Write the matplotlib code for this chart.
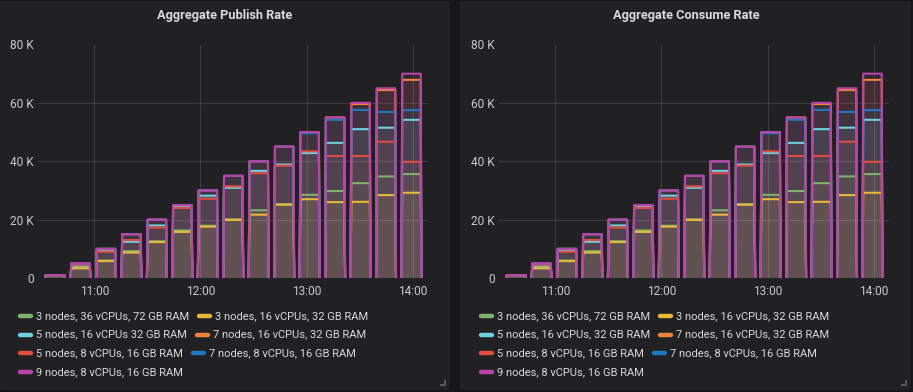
import numpy as np
import matplotlib
matplotlib.use("Agg")
import matplotlib.pyplot as plt
import matplotlib.dates as mdates
from matplotlib.patches import FancyBboxPatch, Polygon
from matplotlib.lines import Line2D

plt.rcParams['font.family'] = ['Roboto', 'DejaVu Sans']

# Test steps (start of each load step) and target rates
day = '2020-01-01T'
step_start = ['10:32:06', '10:46:30', '11:00:54', '11:15:18', '11:29:42',
              '11:44:06', '11:58:30', '12:12:54', '12:27:18', '12:41:42',
              '12:56:06', '13:10:30', '13:24:54', '13:39:18', '13:53:42']
step_minutes = 11.3

# Achieved rates (msg/s) per cluster, one value per step, in thousands
green = [1, 3.6, 6.0, 9.2, 12.6, 16.3, 17.9, 20.1, 23.2, 25.3, 28.5, 29.8, 32.5, 34.8, 35.6]
yellow = [1, 3.3, 5.8, 8.7, 12.3, 15.8, 17.6, 19.9, 21.7, 25.1, 27.0, 26.0, 26.1, 28.4, 29.2]
cyan = [1, 4.2, 9.4, 12.4, 18.0, 24.3, 28.2, 30.9, 36.7, 38.9, 42.8, 46.3, 51.0, 51.5, 54.2]
orange = [1, 5, 10, 15, 20, 25, 30, 35, 40, 45, 50, 55, 59.6, 64.4, 67.9]
red = [1, 4.5, 9.0, 13.0, 17.3, 24.0, 27.2, 31.4, 35.9, 38.5, 43.4, 41.8, 41.8, 46.7, 39.8]
blue = [1, 5, 10, 15, 20, 25, 30, 35, 40, 45, 49.6, 54.2, 57.6, 56.9, 57.5]
purple = [1, 5, 10, 15, 20, 25, 30, 35, 40, 45, 50, 55, 60, 65, 70]

pub_series = [green, yellow, cyan, orange, red, blue, purple]
con_series = [green, yellow, cyan, orange, red, blue, purple]

colors = ['#7EB26D', '#EAB839', '#6ED0E0', '#EF843C', '#E24D42', '#1F78C1', '#BA43A9']

pub_labels = ['3 nodes, 36 vCPUs, 72 GB RAM', '3 nodes, 16 vCPUs, 32 GB RAM',
              '5 nodes, 16 vCPUs 32 GB RAM', '7 nodes, 16 vCPUs, 32 GB RAM',
              '5 nodes, 8 vCPUs, 16 GB RAM', '7 nodes, 8 vCPUs, 16 GB RAM',
              '9 nodes, 8 vCPUs, 16 GB RAM']
con_labels = ['3 nodes, 36 vCPUs, 72 GB RAM', '3 nodes, 16 vCPUs, 32 GB RAM',
              '5 nodes, 16 vCPUs, 32 GB RAM', '7 nodes, 16 vCPUs, 32 GB RAM',
              '5 nodes, 8 vCPUs, 16 GB RAM', '7 nodes, 8 vCPUs, 16 GB RAM',
              '9 nodes, 8 vCPUs, 16 GB RAM']

BG = '#161719'
PANEL = '#212124'
TEXT = '#d8d9da'

W, H = 913, 392
fig = plt.figure(figsize=(W / 100, H / 100), dpi=100, facecolor=BG)


def fx(x):
    return x / W


def fy(y):
    return 1 - y / H


starts = np.array([np.datetime64(day + s) for s in step_start])
ramp = np.timedelta64(25, 's')
dur = np.timedelta64(int(step_minutes * 60), 's')


def build(levels):
    t, v = [], []
    for s, lv in zip(starts, levels):
        t += [s, s + ramp, s + dur - ramp, s + dur, s + dur + ramp]
        v += [0, lv * 1000, lv * 1000, 0, np.nan]
    return np.array(t), np.array(v, dtype=float)


def panel(x0, title, series, labels):
    # panel background
    fig.patches.append(FancyBboxPatch((fx(x0), fy(389)), fx(449), 387 / H,
                                      boxstyle='round,pad=0,rounding_size=0.003',
                                      transform=fig.transFigure, facecolor=PANEL,
                                      edgecolor='#262628', lw=0.8, zorder=-5))
    # resize corner
    cx, cy = x0 + 446, 386
    fig.patches.append(Polygon([(fx(cx), fy(cy)), (fx(cx - 6), fy(cy)), (fx(cx - 6), fy(cy - 2)),
                                (fx(cx - 2), fy(cy - 2)), (fx(cx - 2), fy(cy - 6)), (fx(cx), fy(cy - 6))],
                               closed=True, transform=fig.transFigure, facecolor='#5a5a5e',
                               edgecolor='none', zorder=-4))
    fig.text(fx(x0 + 225), fy(16), title, color=TEXT, fontsize=9.2, fontweight='bold',
             ha='center', va='center')

    ax = fig.add_axes([fx(x0 + 38), fy(278), 390 / W, 233.5 / H])
    ax.set_facecolor('none')
    for s, c in zip(series, colors):
        t, v = build(s)
        ax.fill_between(t, 0, v, color=c, alpha=0.1, lw=0, zorder=1)
    for s, c in zip(series, colors):
        t, v = build(s)
        ax.plot(t, v, color=c, lw=1.5, solid_joinstyle='round', zorder=2)

    ax.set_xlim(np.datetime64(day + '10:28:06'), np.datetime64(day + '14:08:42'))
    ax.set_ylim(0, 80000)
    ax.set_yticks([0, 20000, 40000, 60000, 80000])
    ax.set_yticklabels(['0', '20 K', '40 K', '60 K', '80 K'])
    ax.xaxis.set_major_locator(mdates.HourLocator())
    ax.xaxis.set_major_formatter(mdates.DateFormatter('%H:%M'))
    ax.tick_params(axis='both', length=0, colors='#c8c9ca', labelsize=8.6)
    ax.tick_params(axis='y', pad=3)
    ax.tick_params(axis='x', pad=5)
    ax.set_axisbelow('line')
    ax.grid(True, color='white', alpha=0.12, lw=0.8)
    for sp in ax.spines.values():
        sp.set_visible(False)

    # legend, flowing two items per row
    renderer = fig.canvas.get_renderer()
    rows = [(0, 1), (2, 3), (4, 5), (6,)]
    row_y = [316, 334.5, 353, 372]
    for r, y in zip(rows, row_y):
        x = x0 + 20
        for i in r:
            fig.add_artist(Line2D([fx(x), fx(x + 11)], [fy(y), fy(y)], color=colors[i],
                                  lw=3.2, solid_capstyle='round', transform=fig.transFigure))
            txt = fig.text(fx(x + 16), fy(y), labels[i], color=TEXT, fontsize=8.0,
                           ha='left', va='center')
            ext = txt.get_window_extent(renderer)
            x = ext.x1 + 10
    return ax


panel(0, 'Aggregate Publish Rate', pub_series, pub_labels)
panel(461, 'Aggregate Consume Rate', con_series, con_labels)

fig.savefig('out.png', dpi=100, facecolor=BG)
